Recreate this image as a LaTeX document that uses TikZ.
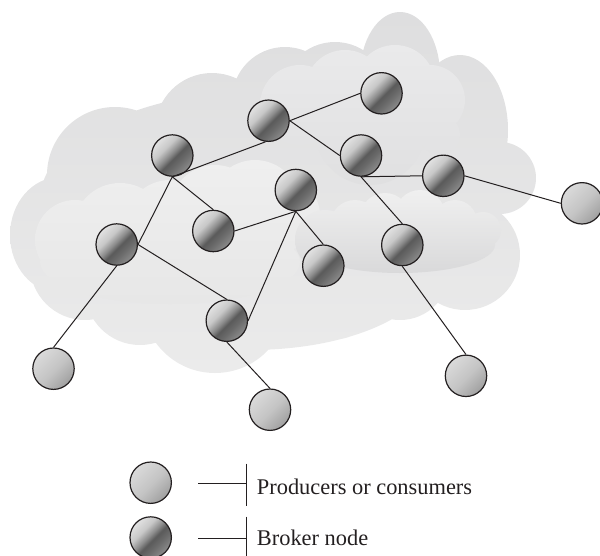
\documentclass[tikz,border=0pt]{standalone}
\usepackage{fontspec}
\setmainfont{Liberation Serif}
\definecolor{ink}{HTML}{231F20}
\definecolor{cloudtop}{HTML}{DEDEDF}
\definecolor{cloudbot}{HTML}{EBEBEB}
\definecolor{uptop}{HTML}{EAEAEB}
\definecolor{upbot}{HTML}{E0E0E1}
\definecolor{midtop}{HTML}{EFEFEF}
\definecolor{midbot}{HTML}{E7E7E7}
\definecolor{lrtop}{HTML}{F0F0F0}
\definecolor{lrbot}{HTML}{D9D9DA}
\definecolor{bkA}{HTML}{E2E2E2}
\definecolor{bkB}{HTML}{C8C8C8}
\definecolor{bkC}{HTML}{8A8A8A}
\definecolor{bkD}{HTML}{5A5A5A}
\definecolor{bkE}{HTML}{6A6A6A}
\definecolor{bkF}{HTML}{8C8C8C}
\definecolor{prA}{HTML}{DADADA}
\definecolor{prB}{HTML}{C4C4C4}
\definecolor{prC}{HTML}{A0A0A0}
\pgfdeclarehorizontalshading{brokershade}{100bp}{color(0bp)=(bkA); color(25bp)=(bkA); color(38bp)=(bkB); color(48bp)=(bkC); color(54bp)=(bkD); color(62bp)=(bkE); color(75bp)=(bkF); color(100bp)=(bkF)}
\pgfdeclarehorizontalshading{prodshade}{100bp}{color(0bp)=(prA); color(25bp)=(prA); color(52bp)=(prB); color(75bp)=(prC); color(100bp)=(prC)}
\tikzset{
  nd/.style={circle, draw=ink, line width=1.2pt, minimum size=41.4pt, inner sep=0pt, shade},
  broker/.style={nd, shading=brokershade, shading angle=-45},
  producer/.style={nd, shading=prodshade, shading angle=-45},
  link/.style={draw=ink, line width=1pt},
  legtext/.style={anchor=base west, inner sep=0pt, text=ink, font=\fontsize{22.4pt}{26pt}\selectfont},
}
\begin{document}
\begin{tikzpicture}[x=1pt, y=-1pt]
\clip (0,0) rectangle (600,555);
\useasboundingbox (0,0) rectangle (600,555);
% outer cloud
\shade[top color=cloudtop, bottom color=cloudbot]
  (60,235) ellipse[x radius=50, y radius=58]
  (85,265) circle[radius=55]
  (115,175) circle[radius=68]
  (212,130) circle[radius=57]
  (285,100) circle[radius=53]
  (335,95) circle[radius=53]
  (400,75) ellipse[x radius=40, y radius=63]
  (460,130) ellipse[x radius=48, y radius=75]
  (500,178) circle[radius=36]
  (465,255) circle[radius=55]
  (400,270) circle[radius=50]
  (330,280) circle[radius=60]
  (215,300) circle[radius=73]
  (140,290) circle[radius=55]
  (270,200) ellipse[x radius=230, y radius=110]
  (250,270) ellipse[x radius=180, y radius=80];
% upper inner cloud
\shade[top color=uptop, bottom color=upbot]
  (300,105) circle[radius=40]
  (345,90) circle[radius=40]
  (395,85) circle[radius=40]
  (430,100) circle[radius=35]
  (440,135) circle[radius=20]
  (370,130) circle[radius=55];
% middle-left inner cloud
\shade[top color=midtop, bottom color=midbot]
  (75,240) circle[radius=40]
  (120,230) circle[radius=47]
  (170,225) circle[radius=45]
  (215,210) circle[radius=45]
  (255,205) circle[radius=45]
  (285,215) circle[radius=35]
  (170,262) ellipse[x radius=130, y radius=42];
% lower-right inner cloud
\shade[top color=lrtop, bottom color=lrbot]
  (325,240) circle[radius=30]
  (355,225) circle[radius=25]
  (385,218) circle[radius=25]
  (420,215) circle[radius=25]
  (455,222) circle[radius=22]
  (483,230) circle[radius=18]
  (400,245) ellipse[x radius=95, y radius=28];
% nodes
\node[broker] (n1) at (381.5,93.3) {};
\node[broker] (n2) at (268.5,120.7) {};
\node[broker] (n3) at (172.3,155.5) {};
\node[broker] (n4) at (361,155.5) {};
\node[broker] (n5) at (443.3,175.8) {};
\node[broker] (n6) at (402.3,245) {};
\node[broker] (n7) at (213.3,231) {};
\node[broker] (n8) at (295.8,190) {};
\node[broker] (n9) at (116.7,244.5) {};
\node[broker] (n10) at (323.3,265.7) {};
\node[broker] (n12) at (226.8,320.7) {};
\node[producer] (n11) at (53.5,368.7) {};
\node[producer] (n13) at (270,409.7) {};
\node[producer] (n14) at (582,203.3) {};
\node[producer] (n15) at (466,375.8) {};
% links
\draw[link] (n2.east) -- (n1.west);
\draw[link] (n3.south) -- (n2.-98);
\draw[link] (n2.east) -- (n4.west);
\draw[link] (n4.south) -- (n5.west);
\draw[link] (n4.south) -- (n6.north);
\draw[link] (n5.east) -- (n14.west);
\draw[link] (n3.south) -- (n7.north);
\draw[link] (n3.south) -- (n9.east);
\draw[link] (n9.east) -- (n12.north);
\draw[link] (n7.east) -- (n8.south);
\draw[link] (n8.south) -- (n10.north);
\draw[link] (n8.south) -- (n12.east);
\draw[link] (n9.south) -- (n11.north);
\draw[link] (n12.south) -- (n13.north);
\draw[link] (n6.south) -- (n15.north);
% legend
\node[producer] (lp) at (150.7,482.7) {};
\node[broker] (lb) at (150.7,537.5) {};
\coordinate (lpa) at (198.3,483.3);
\coordinate (lpb) at (246.7,483.3);
\coordinate (lpt) at (246.7,463.5);
\coordinate (lpu) at (246.7,505.5);
\coordinate (lba) at (198.3,538.5);
\coordinate (lbb) at (246.7,538.5);
\coordinate (lbt) at (246.7,516.5);
\coordinate (lbu) at (246.7,560);
\draw[link] (lpa) -- (lpb);
\draw[link] (lpt) -- (lpu);
\draw[link] (lba) -- (lbb);
\draw[link] (lbt) -- (lbu);
\node[legtext] (tp) at (256.7,494.3) {Producers or consumers};
\node[legtext] (tb) at (256.7,545.3) {Broker node};
\end{tikzpicture}
\end{document}
